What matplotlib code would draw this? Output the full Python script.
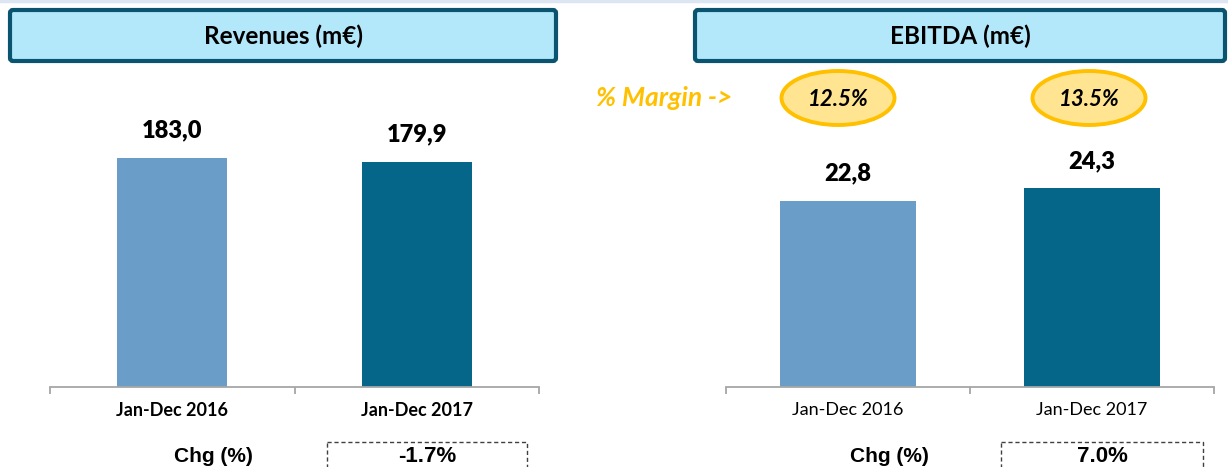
import matplotlib.pyplot as plt
from matplotlib.patches import FancyBboxPatch, Ellipse, Rectangle

# data
periods = ['Jan-Dec 2016', 'Jan-Dec 2017']
revenues = [183.0, 179.9]
ebitda = [22.8, 24.3]
margins = ['12.5%', '13.5%']
rev_chg = '-1.7%'
ebitda_chg = '7.0%'

light = '#6A9EC9'
dark = '#05668A'
bar_colors = [light, dark]
axis_grey = '#A6A6A6'
box_fill = '#B3E8FA'
box_edge = '#0B5470'
gold = '#FFC000'
W, H = 1228, 467

plt.rcParams['font.family'] = ['Lato', 'DejaVu Sans']

fig = plt.figure(figsize=(W/100, H/100), dpi=100)

# overlay in pixel coords for boxes / decorations
ov = fig.add_axes([0, 0, 1, 1])
ov.set_xlim(0, W)
ov.set_ylim(H, 0)
ov.axis('off')
ov.set_zorder(10)

ov.plot([0, W], [1, 1], color='#DCE6F2', lw=2.5)


def title_box(x0, x1, text):
    ov.add_patch(FancyBboxPatch((x0, 10), x1 - x0, 51, boxstyle='round,pad=0,rounding_size=3',
                                facecolor=box_fill, edgecolor=box_edge, lw=3))
    ov.text((x0 + x1) / 2, 36, text, ha='center', va='center', fontsize=17.5, fontweight='bold')


title_box(10, 556, 'Revenues (m€)')
title_box(695, 1225, 'EBITDA (m€)')


def bar_panel(left, right, vals, ytop, width, fmt, bold_ticks):
    ax = fig.add_axes([left / W, 80 / H, (right - left) / W, 317 / H])
    ax.bar(range(len(vals)), vals, width=width, color=bar_colors)
    ax.set_xlim(-0.5, len(vals) - 0.5)
    ax.set_ylim(0, ytop)
    for s in ['top', 'right', 'left']:
        ax.spines[s].set_visible(False)
    ax.spines['bottom'].set_color(axis_grey)
    ax.spines['bottom'].set_linewidth(1.3)
    ax.set_yticks([])
    ax.set_xticks([-0.5, 0.5, 1.5])
    ax.set_xticklabels([])
    ax.tick_params(axis='x', which='major', length=5, width=1.3, color=axis_grey)
    ax.set_xticks(range(len(vals)), minor=True)
    ax.set_xticklabels(periods, minor=True, fontsize=13,
                       fontweight='bold' if bold_ticks else 'normal')
    ax.tick_params(axis='x', which='minor', length=0, pad=11)
    for i, v in enumerate(vals):
        ax.annotate(fmt(v), (i, v), xytext=(0, 27), textcoords='offset pixels',
                    ha='center', va='center', fontsize=17, fontweight='heavy')
    return ax


fmt = lambda v: f'{v:.1f}'.replace('.', ',')
bar_panel(50, 539, revenues, 253, 0.45, fmt, True)
bar_panel(726, 1214, ebitda, 38.8, 0.56, fmt, False)

# margin ellipses
ov.text(664, 98, '% Margin ->', ha='center', va='center', color=gold,
        fontsize=19, fontweight='bold', fontstyle='italic')
for cx, m in zip([838, 1089], margins):
    ov.add_patch(Ellipse((cx, 98), 113, 54, facecolor='#FFE591', edgecolor=gold, lw=2.8))
    ov.text(cx, 99, m, ha='center', va='center', fontsize=16, fontweight='bold', fontstyle='italic')

# change boxes
for cx_lab, bx0, bx1, chg in [(213, 327, 527, rev_chg), (889, 1001, 1203, ebitda_chg)]:
    ov.text(cx_lab, 457, 'Chg (%)', ha='center', va='center', fontsize=15,
            fontweight='bold', family='Liberation Sans')
    ov.add_patch(Rectangle((bx0, 442), bx1 - bx0, 40, fill=False, edgecolor='#404040',
                           lw=1, linestyle=(0, (3, 2))))
    ov.text((bx0 + bx1) / 2, 456, chg, ha='center', va='center', fontsize=16,
            fontweight='bold', family='Liberation Sans')

fig.savefig('out.png', dpi=100)
